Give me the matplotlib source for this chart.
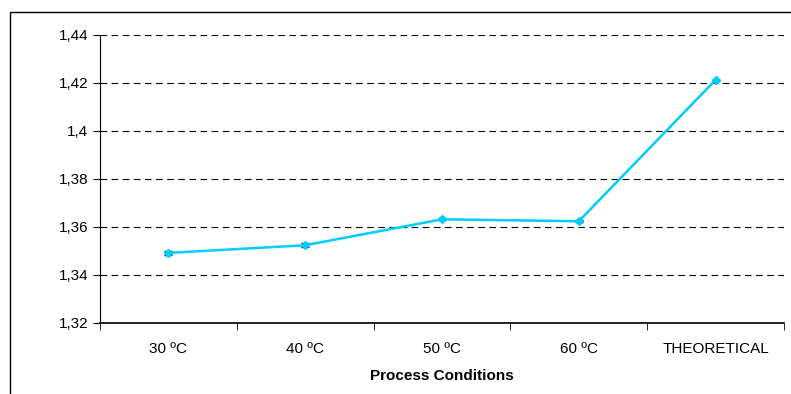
import matplotlib.pyplot as plt
import matplotlib.ticker as mticker
from matplotlib.patches import Rectangle

conditions = ["30 ºC", "40 ºC", "50 ºC", "60 ºC", "THEORETICAL"]
values = [1.3492, 1.3524, 1.3632, 1.3624, 1.4213]
errors = [0.0007, 0.0008, 0.0004, 0.0004, 0.0]

plt.rcParams['font.family'] = ['Liberation Sans', 'DejaVu Sans']

fig = plt.figure(figsize=(7.91, 3.94), dpi=100)
W, H = 791, 394
ax = fig.add_axes([100 / W, 1 - 323 / H, 684 / W, 288 / H])

# outer chart frame (cut off at right and bottom in the original)
fig.patches.append(Rectangle((10 / W, -0.1), 1.2, 1.1 - 12 / H,
                             transform=fig.transFigure, fill=False,
                             edgecolor='black', linewidth=1.0))

x = list(range(len(conditions)))
ax.errorbar(x, values, yerr=errors, color='#00CCFF', linewidth=1.8,
            marker='D', markersize=4, ecolor='black', elinewidth=1,
            capsize=3, capthick=1, zorder=3)

ax.set_xlim(-0.5, len(conditions) - 0.5)
ax.set_ylim(1.32, 1.44)
ax.yaxis.set_major_locator(mticker.MultipleLocator(0.02))
ax.yaxis.set_major_formatter(mticker.FuncFormatter(
    lambda v, p: ('%.2f' % v).rstrip('0').replace('.', ',')))
ax.grid(axis='y', color='black', linestyle=(0, (6, 4)), linewidth=0.8)
ax.set_axisbelow(True)

ax.set_xticks(x)
ax.set_xticklabels(conditions, fontsize=11)
ax.tick_params(axis='x', length=0, pad=14)
ax.set_xticks([i - 0.5 for i in range(len(conditions) + 1)], minor=True)
ax.tick_params(axis='x', which='minor', length=5, direction='out')
ax.tick_params(axis='y', length=5, direction='out', labelsize=11)

ax.spines['top'].set_visible(False)
ax.spines['right'].set_visible(False)
ax.spines['bottom'].set_linewidth(1.2)
ax.set_xlabel("Process Conditions", fontsize=11, fontweight='bold', labelpad=9)

fig.savefig("out.png", dpi=100)
